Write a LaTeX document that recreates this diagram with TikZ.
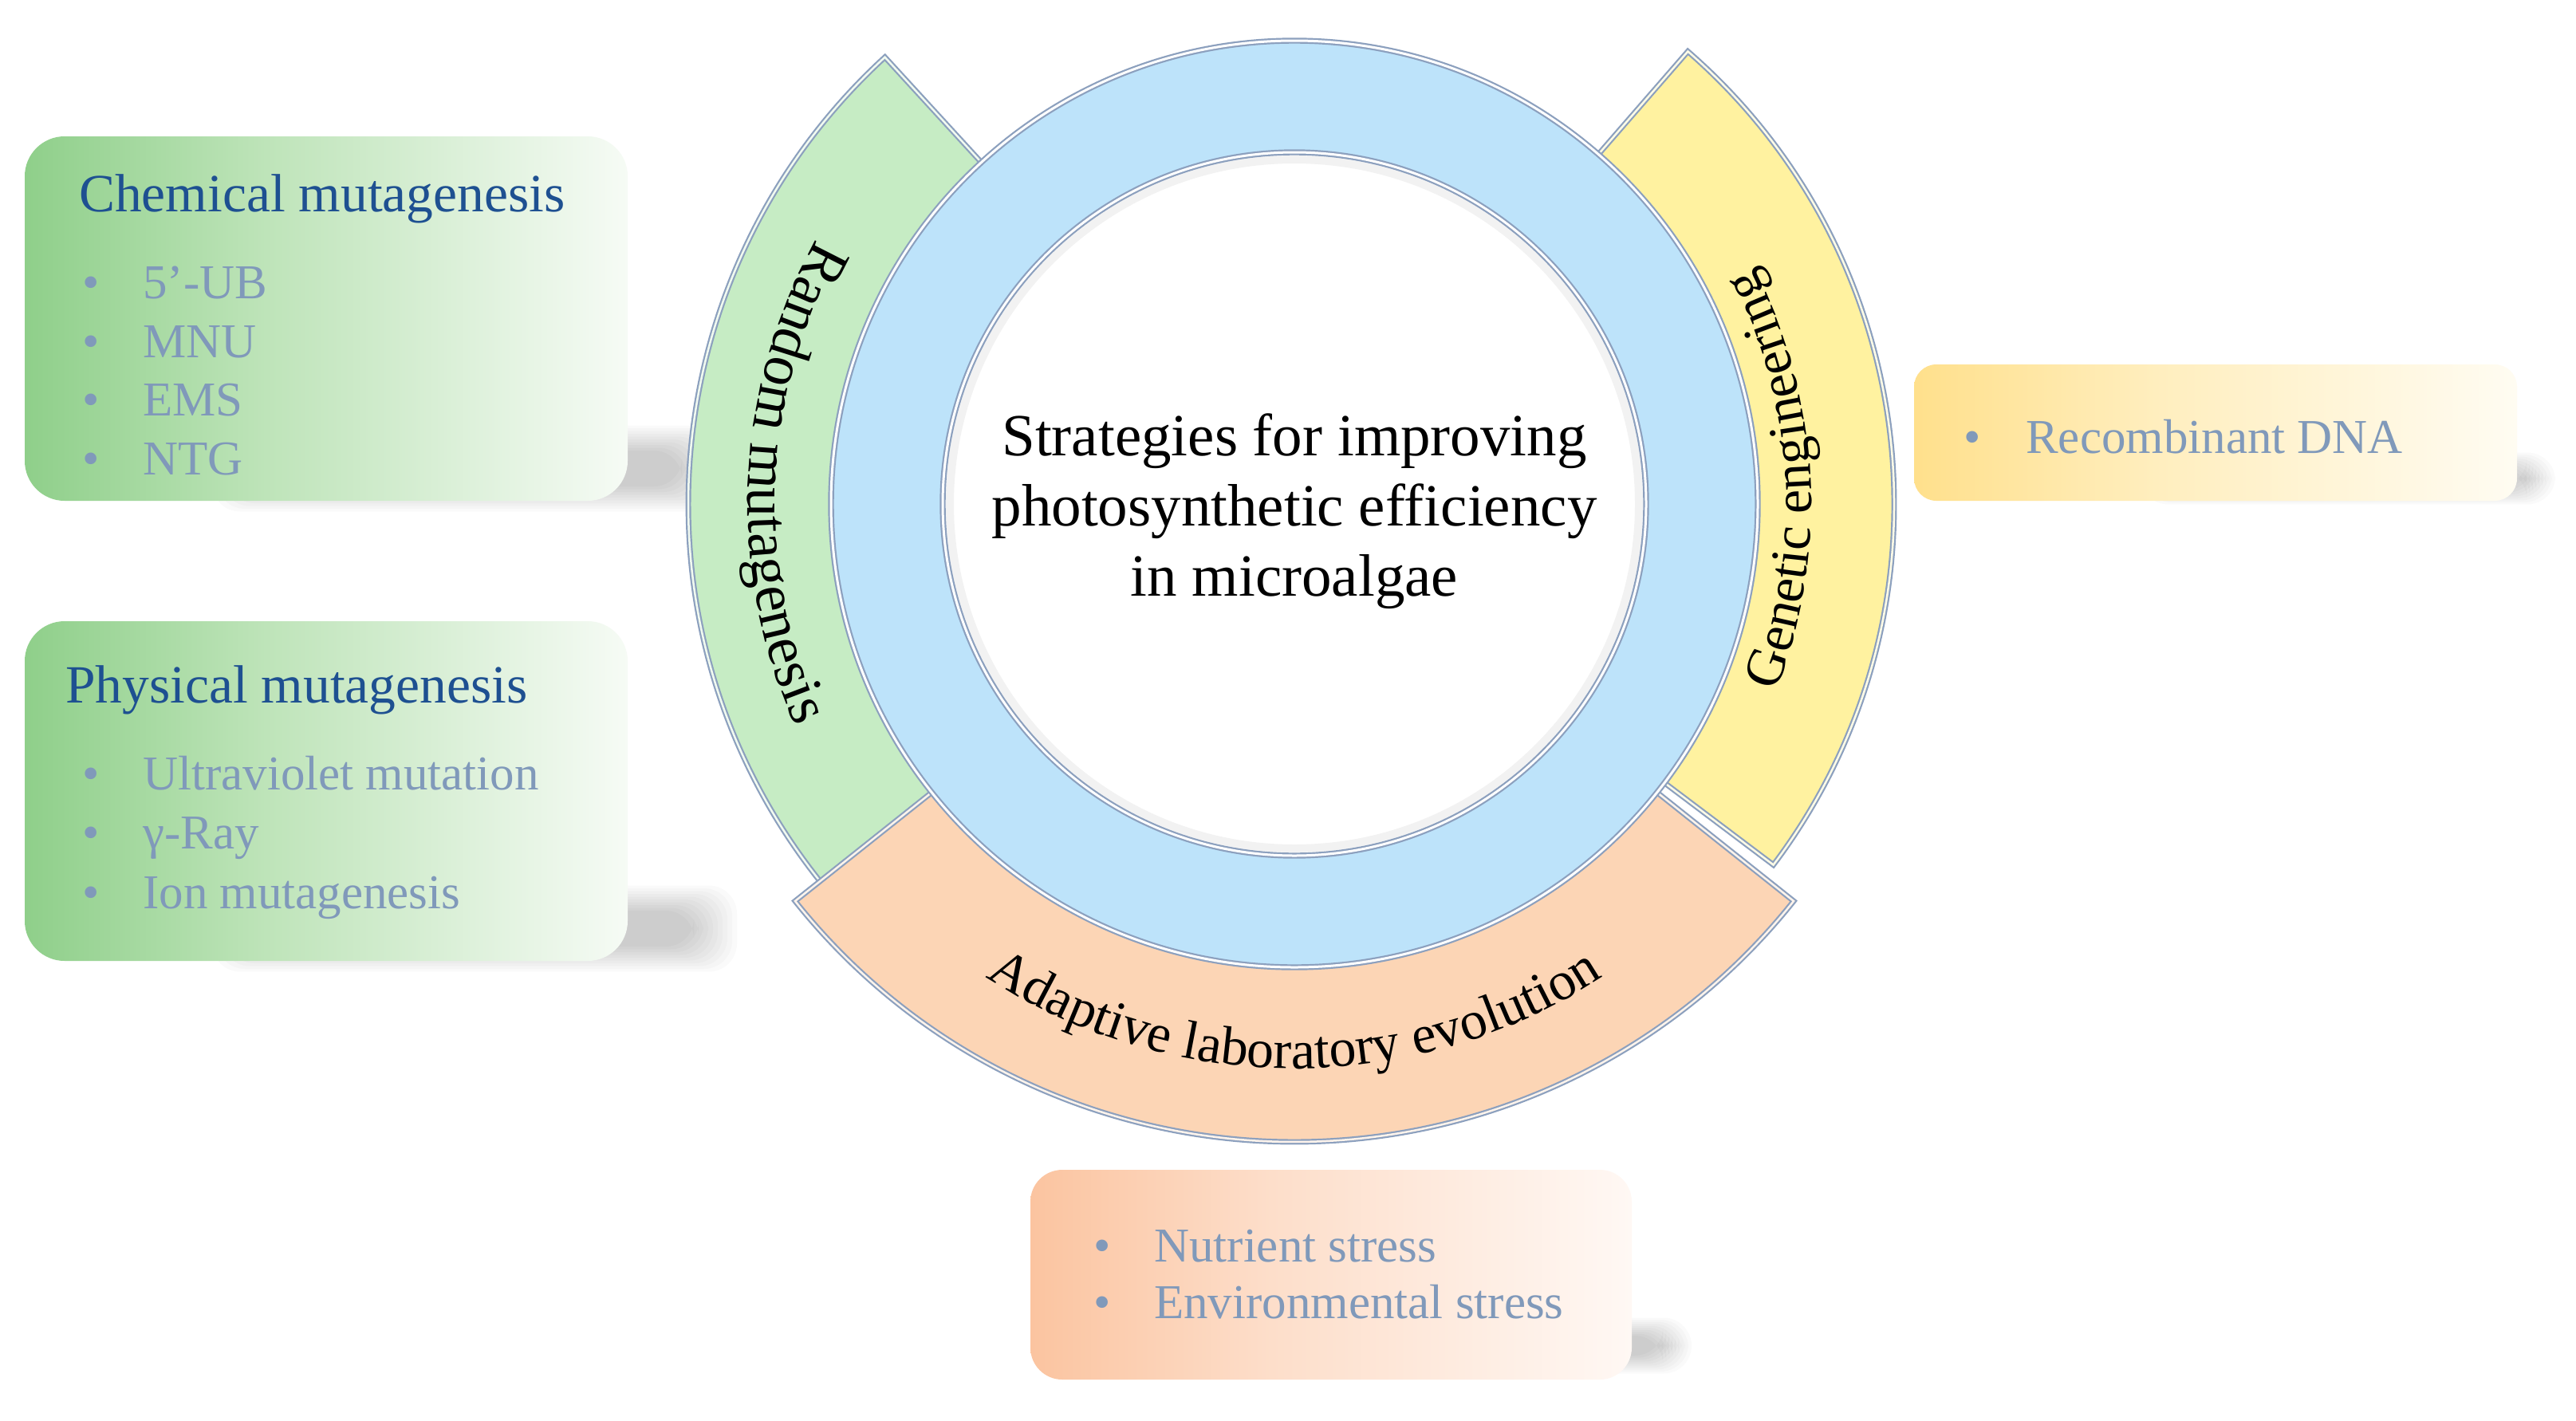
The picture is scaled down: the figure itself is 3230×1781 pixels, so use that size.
\documentclass[tikz,border=0pt]{standalone}
\usepackage{fontspec}
\setmainfont{Liberation Serif}
\usetikzlibrary{decorations.text}
\definecolor{titleblue}{RGB}{30,80,145}
\definecolor{itemcol}{RGB}{128,153,186}
\definecolor{bordercol}{RGB}{140,160,190}
\definecolor{greenarc}{RGB}{198,236,196}
\definecolor{yellowarc}{RGB}{255,242,160}
\definecolor{orangearc}{RGB}{252,213,181}
\definecolor{bluering}{RGB}{189,227,250}
\definecolor{gL}{RGB}{143,207,138}
\definecolor{gM}{RGB}{190,228,185}
\definecolor{gR}{RGB}{246,251,245}
\definecolor{yL}{RGB}{255,224,140}
\definecolor{yM}{RGB}{255,238,190}
\definecolor{yR}{RGB}{255,252,242}
\definecolor{oL}{RGB}{251,196,160}
\definecolor{oM}{RGB}{253,222,202}
\definecolor{oR}{RGB}{255,248,244}
\pgfdeclarehorizontalshading{greenboxsh}{100bp}{color(0bp)=(gL); color(25bp)=(gL); color(45bp)=(gM); color(75bp)=(gR); color(100bp)=(gR)}
\pgfdeclarehorizontalshading{yellowboxsh}{100bp}{color(0bp)=(yL); color(25bp)=(yL); color(45bp)=(yM); color(75bp)=(yR); color(100bp)=(yR)}
\pgfdeclarehorizontalshading{orangeboxsh}{100bp}{color(0bp)=(oL); color(25bp)=(oL); color(45bp)=(oM); color(75bp)=(oR); color(100bp)=(oR)}
\newcommand{\myItemFont}{\fontsize{61}{70}\selectfont}
\newcommand{\myTitleFont}{\fontsize{67.5}{78}\selectfont}
\newcommand{\myArcFont}{\fontsize{68}{78}\selectfont}
\newcommand{\myBigArcFont}{\fontsize{74}{84}\selectfont}
\newcommand{\myCenterFont}{\fontsize{75}{88}\selectfont}
\tikzset{
  boxshadow/.style={fill=black, opacity=0.018, rounded corners=35},
  itemtxt/.style={font=\myItemFont, text=itemcol, inner sep=0pt, anchor=base west},
  titletxt/.style={font=\myTitleFont, text=titleblue, inner sep=0pt, anchor=base west},
  arcborder/.style={draw=bordercol, line width=2.2, double=white!75!#1, double distance=2.5, fill=#1},
  ringborder/.style={draw=bordercol, line width=2.2, double=white, double distance=3},
}
\begin{document}
\begin{tikzpicture}[x=1pt, y=1pt]
\useasboundingbox (0,0) rectangle (3230,-1781);
\fill[white] (0,0) rectangle (3230,-1781);

% ---------- box shadows (soft, towards lower right) ----------
\foreach \i in {0,...,9}{
  \fill[boxshadow] (320-\i*6,-565+\i*3.5) rectangle (855+\i*6,-610-\i*3.5);
  \fill[boxshadow] (320-\i*6,-1142+\i*3.5) rectangle (870+\i*6,-1187-\i*3.5);
  \fill[boxshadow] (2720-\i*4,-590+\i*2.5) rectangle (3168+\i*4,-610-\i*2.5);
  \fill[boxshadow] (1820-\i*4,-1675+\i*2.5) rectangle (2085+\i*4,-1700-\i*2.5);
}

% ---------- boxes ----------
\node[shading=greenboxsh, rounded corners=50, minimum width=756, minimum height=457, inner sep=0] (chembox) at (409,-399.5) {};
\node[shading=greenboxsh, rounded corners=50, minimum width=756, minimum height=426, inner sep=0] (physbox) at (409,-992) {};
\node[shading=yellowboxsh, rounded corners=28, minimum width=756, minimum height=171, inner sep=0] (recbox) at (2778,-542.5) {};
\node[shading=orangeboxsh, rounded corners=40, minimum width=754, minimum height=263, inner sep=0] (alebox) at (1669,-1598.5) {};

% ---------- box texts ----------
\node[titletxt] (chemtitle) at (99,-265) {Chemical mutagenesis};
\node[itemtxt] (cb1) at (103,-374) {•};
\node[itemtxt] (ci1) at (179,-374) {5’-UB};
\node[itemtxt] (cb2) at (103,-448) {•};
\node[itemtxt] (ci2) at (179,-448) {MNU};
\node[itemtxt] (cb3) at (103,-521) {•};
\node[itemtxt] (ci3) at (179,-521) {EMS};
\node[itemtxt] (cb4) at (103,-595) {•};
\node[itemtxt] (ci4) at (179,-595) {NTG};

\node[titletxt] (phystitle) at (82,-881) {Physical mutagenesis};
\node[itemtxt] (pb1) at (103,-990) {•};
\node[itemtxt] (pi1) at (179,-990) {Ultraviolet mutation};
\node[itemtxt] (pb2) at (103,-1064) {•};
\node[itemtxt] (pi2) at (179,-1064) {γ-Ray};
\node[itemtxt] (pb3) at (103,-1139) {•};
\node[itemtxt] (pi3) at (179,-1139) {Ion mutagenesis};

\node[itemtxt] (rb1) at (2462,-568) {•};
\node[itemtxt] (ri1) at (2540,-568) {Recombinant DNA};

\node[itemtxt] (ab1) at (1371,-1582) {•};
\node[itemtxt] (ai1) at (1447,-1582) {Nutrient stress};
\node[itemtxt] (ab2) at (1371,-1653) {•};
\node[itemtxt] (ai2) at (1447,-1653) {Environmental stress};

% ---------- arcs ----------
\begin{scope}[shift={(1623,-632)}]
  \path[arcborder=greenarc] (132.5:760) arc[start angle=132.5, end angle=219, radius=760]
     -- (219:540) arc[start angle=219, end angle=132.5, radius=540] -- cycle;
  \path[arcborder=yellowarc] (-37:752) arc[start angle=-37, end angle=49, radius=752]
     -- (49:540) arc[start angle=49, end angle=-37, radius=540] -- cycle;
  \path[arcborder=orangearc] (218.5:800) arc[start angle=218.5, end angle=321.5, radius=800]
     -- (321.5:560) arc[start angle=321.5, end angle=218.5, radius=560] -- cycle;

  % arc labels
  \path[decorate, decoration={text along path, text={|\myBigArcFont|Random mutagenesis}, text align=center}]
     (117.5:685) arc[start angle=117.5, end angle=237.5, radius=685];
  \path[decorate, decoration={text along path, text={|\myArcFont|Genetic engineering}, text align=center}]
     (-57:648) arc[start angle=-57, end angle=63, radius=648];
  \path[decorate, decoration={text along path, text={|\myArcFont|Adaptive laboratory evolution}, text align=center}]
     (210:708) arc[start angle=210, end angle=330, radius=708];

  % blue ring and white disk
  \path[ringborder, fill=bluering] (0,0) circle[radius=581];
  \path[ringborder, fill=white] (0,0) circle[radius=441];
  \draw[black, opacity=0.05, line width=10] (0,0) circle[radius=432];
\end{scope}

\node[font=\myCenterFont, align=center, inner sep=0] (centre) at (1623,-641) {Strategies for improving\\photosynthetic efficiency\\in microalgae};
\end{tikzpicture}
\end{document}
